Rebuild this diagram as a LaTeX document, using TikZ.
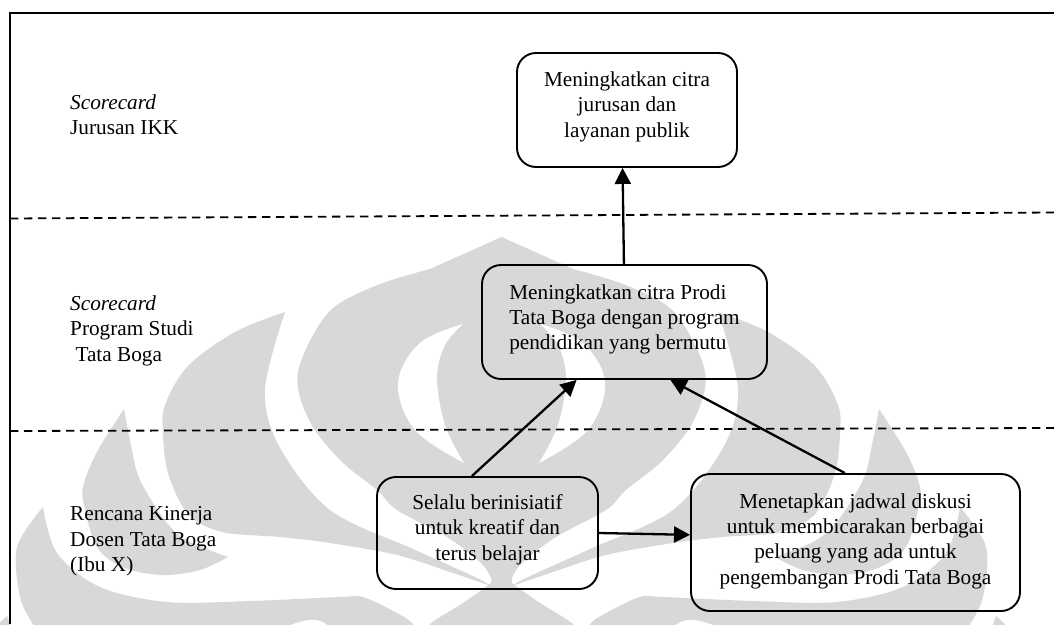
\documentclass[tikz,border=0pt]{standalone}
\usepackage{fontspec}
\setmainfont{Liberation Serif}
\usetikzlibrary{arrows.meta,calc}
\definecolor{wm}{HTML}{D8D8D8}
\newcommand\boxtxt[3]{\raisebox{#1}[0pt][0pt]{\begin{tabular}{@{}#2@{}}#3\end{tabular}}}
\newcommand\wmhalf{%
  % fourth flame
  \fill[wm] plot[smooth,tension=.55] coordinates {(43,507) (57,553) (100,587) (167,602) (250,601) (340,597) (363,597) (397,613) (413,624) (420,640)}
     -- (33,640) -- plot[smooth,tension=.55] coordinates {(33,624) (20,597) (17,547) (43,507)} -- cycle;
  % white gap low in the fourth flame
  \fill[white] plot[smooth,tension=.6] coordinates {(262,640) (293,624) (320,621) (345,640)} -- cycle;
  % corner tip
  \fill[wm] (7,616) -- (-8,630) -- (12,630) -- cycle;
  % third flame
  \fill[wm] plot[smooth,tension=.55] coordinates {(124,409) (98,450) (85,480) (83,500) (97,547) (125,568) (163,575) (200,570) (228,557)}
     -- plot[smooth,tension=.55] coordinates {(228,557) (190,542) (167,523) (140,480) (131,445) (124,409)} -- cycle;
  % second flame
  \fill[wm] plot[smooth,tension=.55] coordinates {(285,312) (235,332) (188,366) (165,405) (163,433) (168,473) (188,514) (222,532) (280,537) (330,543) (397,555) (450,572) (491,586)}
     -- plot[smooth,tension=.55] coordinates {(491,586) (475,577) (413,549) (330,510) (279,446) (265,389) (285,312)} -- cycle;
  % central body
  \fill[wm] (501.5,237) -- (430,269) -- plot[smooth,tension=.55] coordinates {(430,269) (375,286) (328,313) (298,372) (309,420) (340,460) (377,490) (397,510) (447,537) (480,562) (491,578) (490,584)}
     -- plot[smooth,tension=.55] coordinates {(490,584) (463,603) (430,624) (420,640)} -- (503,640) -- (503,237) -- cycle;
  % crescent
  \fill[white] plot[smooth,tension=.6] coordinates {(463,324) (420,343) (398,383) (415,430) (464,463)}
     -- plot[smooth,tension=.6] coordinates {(464,463) (445,425) (437,378) (445,345) (463,324)} -- cycle;
}
\tikzset{
  framel/.style={line width=2pt,black},
  dashl/.style={line width=1.8pt,black,dash pattern=on 8.4pt off 5.6pt},
  rbox/.style={draw=black,line width=1.9pt,rounded corners=19pt,inner sep=0pt,align=center,font=\fontsize{21.25}{25.2}\selectfont},
  lab/.style={inner sep=0pt,align=left,anchor=base west,font=\fontsize{21.25}{25.5}\selectfont},
  arr/.style={line width=2.3pt,black,-{Triangle[length=16pt,width=16pt]}}
}
\begin{document}
\begin{tikzpicture}[x=1pt,y=-1pt]
\useasboundingbox (0,0) rectangle (1054,624);
\fill[white] (0,0) rectangle (1054,624);
\begin{scope}
  \clip (0,0) rectangle (1054,624);
  \wmhalf
  \begin{scope}[shift={(1003,0)},xscale=-1]
    \wmhalf
  \end{scope}
\end{scope}
% frame and dashed separators
\coordinate (fa) at (10,624);
\coordinate (fb) at (10,12.8);
\coordinate (fc) at (1054,12.8);
\draw[framel] (fa) -- (fb) -- (fc);
\coordinate (d1a) at (10,218.5);
\coordinate (d1b) at (1054,212.5);
\coordinate (d2a) at (10,431);
\coordinate (d2b) at (1054,428);
\draw[dashl] (d1a) -- (d1b);
\draw[dashl] (d2a) -- (d2b);
% left labels
\node[lab] (l1) at (70,134.5) {\textit{Scorecard}\\Jurusan IKK};
\node[lab] (l2) at (70,361) {\textit{Scorecard}\\Program Studi\\\hspace*{5.3pt}Tata Boga};
\node[lab] (l3) at (70,571.5) {Rencana Kinerja\\Dosen Tata Boga\\(Ibu X)};
% boxes
\node[rbox,minimum width=220pt,minimum height=114pt] (b1) at (627,110) {\boxtxt{-2pt}{c}{Meningkatkan citra\\jurusan dan\\layanan publik}};
\node[rbox,minimum width=285pt,minimum height=114pt] (b2) at (624.5,322) {\boxtxt{-2.5pt}{l}{Meningkatkan citra Prodi\\Tata Boga dengan program\\pendidikan yang bermutu}};
\node[rbox,minimum width=221pt,minimum height=112pt] (b3) at (487.5,533) {\boxtxt{-2pt}{c}{Selalu berinisiatif\\untuk kreatif dan\\terus belajar}};
\node[rbox,minimum width=329pt,minimum height=137pt] (b4) at (855.5,542.5) {\boxtxt{-4pt}{c}{Menetapkan jadwal diskusi\\untuk membicarakan berbagai\\peluang yang ada untuk\\pengembangan Prodi Tata Boga}};
% connectors
\draw[arr] ($(b2.north west)!0.498!(b2.north east)$) -- ($(b1.south west)!0.48!(b1.south east)$);
\draw[arr] ($(b3.north west)!0.43!(b3.north east)$) -- ($(b2.south west)!0.333!(b2.south east)$);
\draw[arr] ($(b4.north west)!0.468!(b4.north east)$) -- ($(b2.south west)!0.66!(b2.south east)$);
\draw[arr] (b3.east) -- ($(b4.north west)!0.445!(b4.south west)$);
\end{tikzpicture}
\end{document}
